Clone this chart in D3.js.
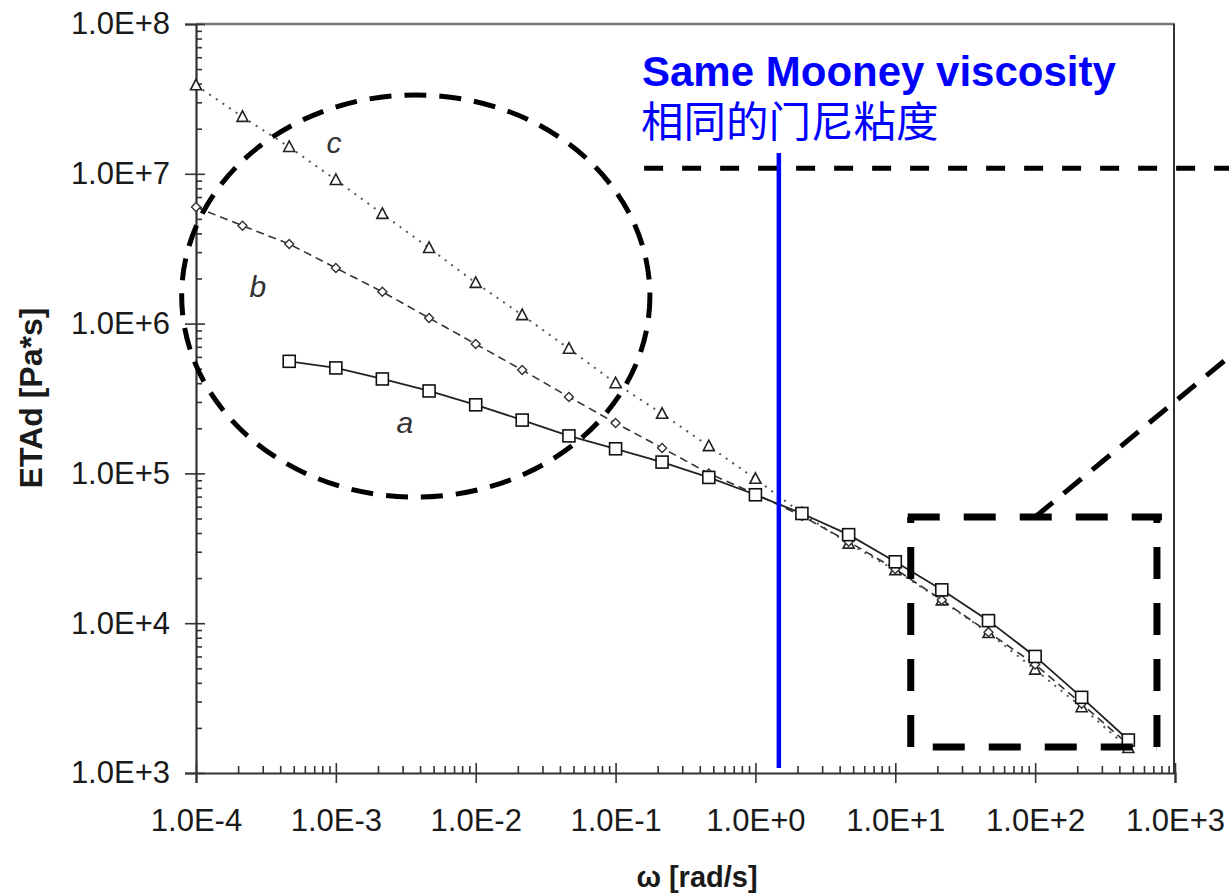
<!DOCTYPE html>
<html><head><meta charset="utf-8">
<script src="https://cdn.jsdelivr.net/npm/d3@7"></script>
<style>html,body{margin:0;padding:0;background:#fff;} svg{display:block;}</style>
</head><body><svg id="chart" width="1229" height="895"></svg>
<script>
// ---------------- data ----------------
const frequencies = [1e-4, 2.15e-4, 4.64e-4, 1e-3, 2.15e-3, 4.64e-3, 1e-2, 2.15e-2, 4.64e-2,
  1e-1, 2.15e-1, 4.64e-1, 1, 2.15, 4.64, 10, 21.5, 46.4, 100, 215, 464];
const seriesA = [null, null, 5.6e5, 5.06e5, 4.27e5, 3.55e5, 2.87e5, 2.27e5, 1.78e5,
  1.46e5, 1.19e5, 9.4e4, 7.2e4, 5.4e4, 3.9e4, 2.57e4, 1.67e4, 1.04e4, 6.0e3, 3.2e3, 1.66e3];
const seriesB = [6.0e6, 4.5e6, 3.4e6, 2.35e6, 1.63e6, 1.09e6, 7.3e5, 4.9e5, 3.24e5,
  2.17e5, 1.48e5, 1.0e5, 7.3e4, 5.2e4, 3.5e4, 2.3e4, 1.43e4, 8.7e3, 5.3e3, 2.9e3, 1.55e3];
const seriesC = [3.9e7, 2.4e7, 1.51e7, 9.1e6, 5.4e6, 3.2e6, 1.87e6, 1.14e6, 6.8e5,
  4.0e5, 2.5e5, 1.52e5, 9.2e4, 5.4e4, 3.4e4, 2.26e4, 1.42e4, 8.6e3, 4.9e3, 2.75e3, 1.47e3];
const xTickValues = [1e-4, 1e-3, 1e-2, 1e-1, 1e0, 1e1, 1e2, 1e3];
const yTickValues = [1e3, 1e4, 1e5, 1e6, 1e7, 1e8];
const seriesNames = ["a", "b", "c"];
const xTitle = "ω [rad/s]";
const yTitle = "ETAd [Pa*s]";
const noteEnglish = "Same Mooney viscosity";
const noteChinese = "相同的门尼粘度";
const sameMooneyOmega = 1.47;

// ---------------- layout ----------------
const svg = d3.select("#chart");
const L = 196, R = 1175, T = 24, B = 773;
const x = d3.scaleLog().domain([1e-4, 1e3]).range([L, R]);
const y = d3.scaleLog().domain([1e3, 1e8]).range([B, T]);
const fmt = v => { const e = Math.round(Math.log10(v)); return "1.0E" + (e >= 0 ? "+" : "-") + Math.abs(e); };
const FONT = "'Liberation Sans', Arial, Helvetica, sans-serif";
const axisColor = "#333";

function minors(domain) {
  const out = [];
  const lo = Math.round(Math.log10(domain[0])), hi = Math.round(Math.log10(domain[1]));
  for (let e = lo; e < hi; e++) for (let m = 2; m <= 9; m++) out.push(m * Math.pow(10, e));
  return out;
}

// frame (top & right)
svg.append("line").attr("x1", L).attr("x2", R).attr("y1", T).attr("y2", T)
  .attr("stroke", "#777").attr("stroke-width", 2.5);
svg.append("line").attr("x1", R - 1).attr("x2", R - 1).attr("y1", T).attr("y2", B)
  .attr("stroke", "#333").attr("stroke-width", 2);

// Y axis
svg.append("g").attr("transform", `translate(${L},0)`)
  .call(d3.axisLeft(y).tickValues(yTickValues).tickFormat(fmt).tickSize(11).tickPadding(15));
svg.append("g").attr("transform", `translate(${L},0)`)
  .call(d3.axisRight(y).tickValues(yTickValues).tickFormat("").tickSize(9).tickSizeOuter(0))
  .call(g => g.select(".domain").remove());
svg.append("g").attr("transform", `translate(${L},0)`)
  .call(d3.axisRight(y).tickValues(minors(y.domain())).tickFormat("").tickSize(6).tickSizeOuter(0))
  .call(g => g.select(".domain").remove());

// X axis
svg.append("g").attr("transform", `translate(0,${B})`)
  .call(d3.axisBottom(x).tickValues(xTickValues).tickFormat(fmt).tickSize(10).tickPadding(26));
svg.append("g").attr("transform", `translate(0,${B})`)
  .call(d3.axisTop(x).tickValues(xTickValues).tickFormat("").tickSize(10).tickSizeOuter(0))
  .call(g => g.select(".domain").remove());
svg.append("g").attr("transform", `translate(0,${B})`)
  .call(d3.axisTop(x).tickValues(minors(x.domain())).tickFormat("").tickSize(7).tickSizeOuter(0))
  .call(g => g.select(".domain").remove());

svg.selectAll(".domain").attr("stroke", axisColor).attr("stroke-width", 2.2);
svg.selectAll(".tick line").attr("stroke", axisColor).attr("stroke-width", 1.6);
svg.selectAll(".tick text").attr("font-family", FONT).attr("font-size", 31).attr("fill", "#1a1a1a");

// Axis titles
svg.append("text").attr("transform", "translate(42,398) rotate(-90)")
  .attr("text-anchor", "middle").attr("font-family", FONT).attr("font-weight", "bold")
  .attr("font-size", 32).attr("fill", "#1a1a1a").text(yTitle);
svg.append("text").attr("x", 697).attr("y", 887)
  .attr("text-anchor", "middle").attr("font-family", FONT).attr("font-weight", "bold")
  .attr("font-size", 29).attr("fill", "#1a1a1a").text(xTitle);

// ---------------- series ----------------
const specs = [
  { name: seriesNames[2], values: seriesC, dash: "2,6", color: "#555", width: 2, marker: "tri" },
  { name: seriesNames[1], values: seriesB, dash: "8,5", color: "#333", width: 1.6, marker: "dia" },
  { name: seriesNames[0], values: seriesA, dash: null, color: "#222", width: 1.8, marker: "sq" }
];
const lineGen = d3.line().defined(d => d.v != null).x(d => x(d.f)).y(d => y(d.v));
specs.forEach(s => {
  const pts = frequencies.map((f, i) => ({ f, v: s.values[i] }));
  svg.append("path").datum(pts).attr("d", lineGen).attr("fill", "none")
    .attr("stroke", s.color).attr("stroke-width", s.width)
    .attr("stroke-dasharray", s.dash);
});
specs.forEach(s => {
  const pts = frequencies.map((f, i) => ({ f, v: s.values[i] })).filter(d => d.v != null);
  const g = svg.append("g");
  pts.forEach(d => {
    const cx = x(d.f), cy = y(d.v);
    if (s.marker === "sq") {
      g.append("rect").attr("x", cx - 6).attr("y", cy - 6).attr("width", 12).attr("height", 12)
        .attr("fill", "#fff").attr("stroke", "#111").attr("stroke-width", 1.6);
    } else if (s.marker === "tri") {
      g.append("path").attr("d", `M${cx},${cy - 6}L${cx + 5.5},${cy + 4.5}L${cx - 5.5},${cy + 4.5}Z`)
        .attr("fill", "#fff").attr("stroke", "#222").attr("stroke-width", 1.6);
    } else {
      g.append("path").attr("d", `M${cx},${cy - 4.5}L${cx + 4.5},${cy}L${cx},${cy + 4.5}L${cx - 4.5},${cy}Z`)
        .attr("fill", "#fff").attr("stroke", "#333").attr("stroke-width", 1.4);
    }
  });
});

// series labels (data-space anchors)
const labelAnchors = [
  { t: seriesNames[2], f: 9.7e-4, v: 1.38e7 },
  { t: seriesNames[1], f: 2.77e-4, v: 1.5e6 },
  { t: seriesNames[0], f: 3.12e-3, v: 1.86e5 }
];
labelAnchors.forEach(a => {
  svg.append("text").attr("x", x(a.f)).attr("y", y(a.v)).attr("text-anchor", "middle")
    .attr("font-family", FONT).attr("font-style", "italic").attr("font-size", 30)
    .attr("fill", "#333").text(a.t);
});

// ---------------- annotations ----------------
// big dashed ellipse around low-frequency region
const eL = x(7.9e-5), eR = x(0.176), eT = y(3.36e7), eB = y(6.95e4);
svg.append("ellipse").attr("cx", (eL + eR) / 2).attr("cy", (eT + eB) / 2)
  .attr("rx", (eR - eL) / 2).attr("ry", (eB - eT) / 2)
  .attr("fill", "none").attr("stroke", "#000").attr("stroke-width", 5)
  .attr("stroke-dasharray", "22,13");

// dashed rectangle around high-frequency region
const rL = x(12.9), rR = x(743), rT = y(5.12e4), rB = y(1.49e3);
const rectDash = "32,24";
svg.append("line").attr("x1", rL - 3).attr("x2", rR + 5).attr("y1", rT).attr("y2", rT)
  .attr("stroke", "#000").attr("stroke-width", 7).attr("stroke-dasharray", rectDash);
svg.append("line").attr("x1", rL).attr("x2", rR).attr("y1", rB).attr("y2", rB)
  .attr("stroke", "#000").attr("stroke-width", 7).attr("stroke-dasharray", rectDash).attr("stroke-dashoffset", 34);
svg.append("line").attr("x1", rL).attr("x2", rL).attr("y1", rB).attr("y2", rT)
  .attr("stroke", "#000").attr("stroke-width", 7).attr("stroke-dasharray", rectDash);
svg.append("line").attr("x1", rR).attr("x2", rR).attr("y1", rB).attr("y2", rT)
  .attr("stroke", "#000").attr("stroke-width", 7).attr("stroke-dasharray", rectDash);

// diagonal dashed callout line
svg.append("line").attr("x1", x(100)).attr("y1", rT).attr("x2", x(2.6e3)).attr("y2", y(6.3e5))
  .attr("stroke", "#000").attr("stroke-width", 5).attr("stroke-dasharray", "23,14");

// horizontal dashed line
svg.append("line").attr("x1", x(0.16)).attr("x2", 1232).attr("y1", y(1.09e7)).attr("y2", y(1.09e7))
  .attr("stroke", "#000").attr("stroke-width", 5).attr("stroke-dasharray", "19,19");

// blue vertical "same Mooney" line
svg.append("line").attr("x1", x(sameMooneyOmega)).attr("x2", x(sameMooneyOmega))
  .attr("y1", 153).attr("y2", 768).attr("stroke", "#0000ff").attr("stroke-width", 4.5);

svg.append("text").attr("x", 642).attr("y", 86).attr("font-family", FONT)
  .attr("font-weight", "bold").attr("font-size", 42).attr("fill", "#0000ff").text(noteEnglish);
svg.append("text").attr("x", 641).attr("y", 137).attr("font-family", "'Noto Sans CJK SC', sans-serif")
  .attr("font-size", 42.5).attr("fill", "#0000ff").text(noteChinese);
</script>
</body></html>
